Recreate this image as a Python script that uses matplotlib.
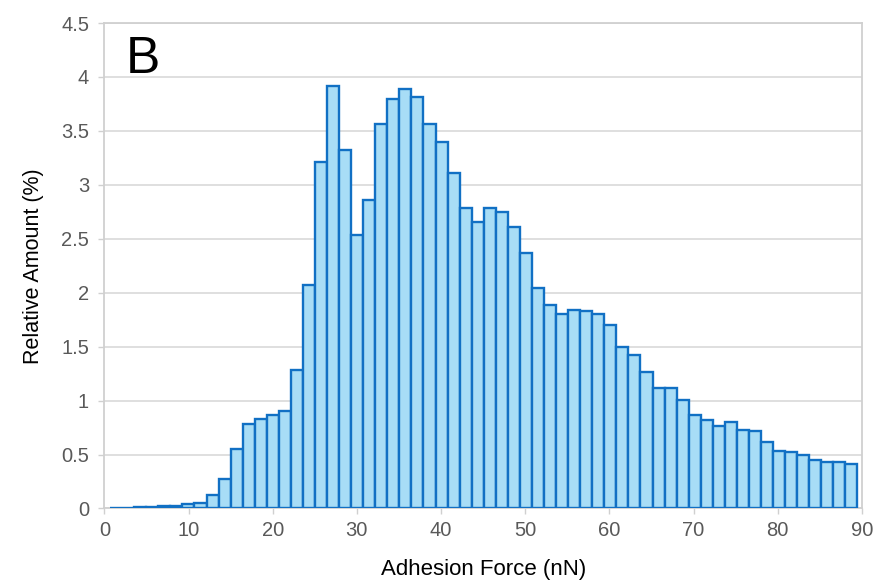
import numpy as np
import matplotlib
matplotlib.use("Agg")
import matplotlib.pyplot as plt

# relative amount (%) per adhesion-force bin, 62 bins from ~0.7 to ~89.4 nN
rel_amount = [
    0.005, 0.008, 0.01, 0.015, 0.02, 0.02, 0.04, 0.055, 0.125, 0.275,
    0.555, 0.787, 0.83, 0.87, 0.907, 1.287, 2.07, 3.216, 3.917, 3.324,
    2.537, 2.861, 3.565, 3.793, 3.889, 3.818, 3.565, 3.40, 3.114, 2.784,
    2.654, 2.784, 2.747, 2.611, 2.364, 2.043, 1.889, 1.806, 1.836, 1.827,
    1.806, 1.704, 1.497, 1.426, 1.266, 1.117, 1.117, 1.003, 0.864, 0.818,
    0.769, 0.802, 0.731, 0.716, 0.617, 0.537, 0.525, 0.494, 0.447, 0.429,
    0.432, 0.414,
]
bin_start = 0.68      # nN
bin_width = 1.432     # nN

x_ticks = list(range(0, 100, 10))
y_ticks = [0, 0.5, 1, 1.5, 2, 2.5, 3, 3.5, 4, 4.5]
y_tick_labels = ["0", "0.5", "1", "1.5", "2", "2.5", "3", "3.5", "4", "4.5"]

plt.rcParams["font.family"] = ["Liberation Sans", "DejaVu Sans"]

fig = plt.figure(figsize=(8.88, 5.80), dpi=100)
ax = fig.add_axes([0.1175, 0.1233, 0.8532, 0.837])

left_edges = bin_start + bin_width * np.arange(len(rel_amount))
ax.bar(left_edges, rel_amount, width=bin_width, align="edge",
       color="#a8ddf6", edgecolor="#1170c4", linewidth=1.7, zorder=3)

ax.set_xlim(0, 90)
ax.set_ylim(0, 4.5)
ax.set_xticks(x_ticks)
ax.set_yticks(y_ticks)
ax.set_yticklabels(y_tick_labels)

ax.grid(axis="y", color="#dcdcdc", linewidth=1.3, zorder=0)
for side in ["left", "right", "top", "bottom"]:
    ax.spines[side].set_color("#d0d0d0")
    ax.spines[side].set_linewidth(1.3)

ax.tick_params(axis="both", colors="#d0d0d0", labelcolor="#595959",
               labelsize=14.5, length=4, width=1)
ax.tick_params(axis="x", pad=5)
ax.tick_params(axis="y", pad=7)

ax.set_xlabel("Adhesion Force (nN)", fontsize=16, color="black", labelpad=14)
ax.set_ylabel("Relative Amount (%)", fontsize=15.5, color="black", labelpad=12)

ax.text(0.028, 0.975, "B", transform=ax.transAxes, fontsize=37,
        color="black", ha="left", va="top")

fig.savefig("out.png", dpi=100)
